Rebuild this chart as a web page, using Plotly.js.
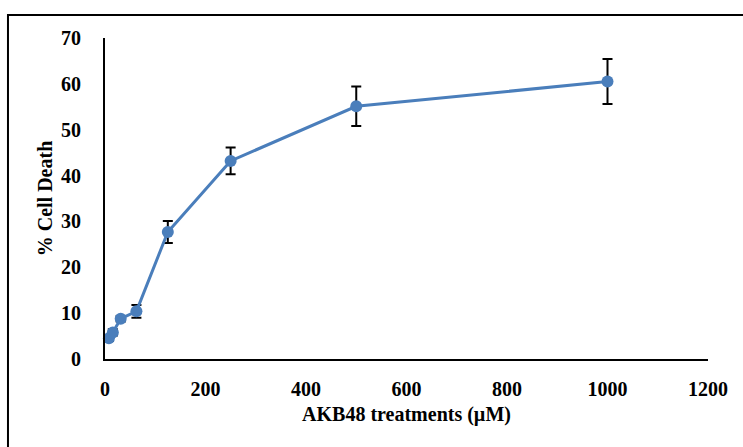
<!DOCTYPE html>
<html>
<head>
<meta charset="utf-8">
<script src="https://cdn.plot.ly/plotly-3.0.1.min.js"></script>
<style>
html,body{margin:0;padding:0;background:#fff;}
#chart{width:743px;height:447px;}
</style>
</head>
<body>
<div id="chart"></div>
<script>
const concentrations = [7.8, 15.6, 31.25, 62.5, 125, 250, 500, 1000];
const cellDeath = [4.5, 5.8, 8.8, 10.4, 27.7, 43.2, 55.1, 60.5];
const errors = [0.6, 0.7, 0.6, 1.4, 2.4, 2.9, 4.3, 4.9];
const xTicks = [0, 200, 400, 600, 800, 1000, 1200];
const yTicks = [0, 10, 20, 30, 40, 50, 60, 70];

const fam = '"Liberation Serif", "Times New Roman", serif';
const font = {family: fam, size: 20, color: '#000'};

const trace = {
  x: concentrations,
  y: cellDeath,
  type: 'scatter',
  mode: 'lines+markers',
  line: {color: '#4a7ebb', width: 3},
  marker: {color: '#4a7ebb', size: 12},
  error_y: {type: 'data', array: errors, visible: true, color: '#000', thickness: 2, width: 5},
  cliponaxis: false
};

const layout = {
  width: 743, height: 447,
  margin: {l: 105, r: 35, t: 38, b: 88},
  paper_bgcolor: '#fff', plot_bgcolor: '#fff',
  showlegend: false,
  font: font,
  xaxis: {
    range: [0, 1200], tickvals: xTicks, ticktext: xTicks.map(String),
    showgrid: false, zeroline: false, showline: true, linecolor: '#000', linewidth: 2,
    ticks: '', ticklabelstandoff: 11,
    tickfont: {family: fam, size: 20, color: '#000', weight: 'bold'},
    title: {text: '<b>AKB48 treatments (µM)</b>', font: {family: fam, size: 20, color: '#000'}, standoff: 8}
  },
  yaxis: {
    range: [0, 70], tickvals: yTicks, ticktext: yTicks.map(String),
    showgrid: false, zeroline: false, showline: true, linecolor: '#000', linewidth: 2,
    ticks: '', ticklabelstandoff: 18,
    tickfont: {family: fam, size: 20, color: '#000', weight: 'bold'},
    title: {text: '<b>% Cell Death</b>', font: {family: fam, size: 20, color: '#000'}, standoff: 3}
  },
  shapes: [{
    type: 'rect', xref: 'paper', yref: 'paper',
    x0: -0.1609, x1: 1.08, y0: -0.33, y1: 1.0717,
    line: {color: '#000', width: 2}, fillcolor: 'rgba(0,0,0,0)', layer: 'below'
  }]
};

Plotly.newPlot('chart', [trace], layout, {staticPlot: true, displayModeBar: false});
</script>
</body>
</html>
